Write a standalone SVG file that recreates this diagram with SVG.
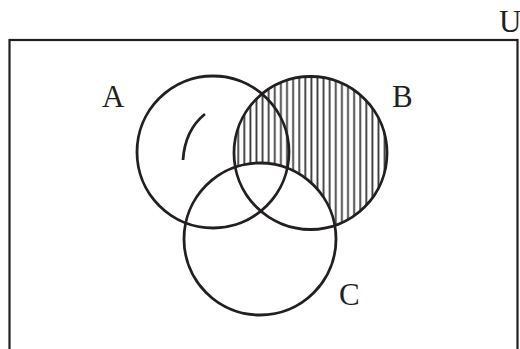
<svg xmlns="http://www.w3.org/2000/svg" width="520" height="349" viewBox="0 0 520 349">
<defs>
<style>
.ring{fill:none;stroke:#231f20;stroke-width:2.8}
.lbl{font-family:"Liberation Serif","DejaVu Serif",serif;font-size:31px;fill:#231f20}
.hatch{stroke:#3a3a3a;stroke-width:1.8}
</style>
<mask id="bNotC">
<rect x="0" y="0" width="520" height="349" fill="black"/>
<circle cx="310.5" cy="153" r="76.5" fill="white"/>
<circle cx="260" cy="239" r="76" fill="black"/>
</mask>
<pattern id="vlines" x="235.2" y="0" width="6.1" height="349" patternUnits="userSpaceOnUse">
<line x1="3" y1="0" x2="3" y2="349" class="hatch"/>
</pattern>
</defs>
<rect x="0" y="0" width="520" height="349" fill="#ffffff"/>
<g id="universe">
<rect x="9.5" y="40" width="508" height="330" fill="none" stroke="#231f20" stroke-width="2.2"/>
<text x="499" y="32" class="lbl">U</text>
</g>
<g id="shading">
<rect x="225" y="70" width="170" height="170" fill="url(#vlines)" mask="url(#bNotC)"/>
</g>
<g id="A">
<circle cx="213" cy="152" r="76" class="ring"/>
<path d="M205,114 Q185,130 183,160" class="ring"/>
<text x="102" y="107" class="lbl">A</text>
</g>
<g id="B">
<circle cx="310.5" cy="153" r="76.5" class="ring"/>
<text x="392" y="107" class="lbl">B</text>
</g>
<g id="C">
<circle cx="260" cy="239" r="76" class="ring"/>
<text x="339" y="305" class="lbl">C</text>
</g>
</svg>
